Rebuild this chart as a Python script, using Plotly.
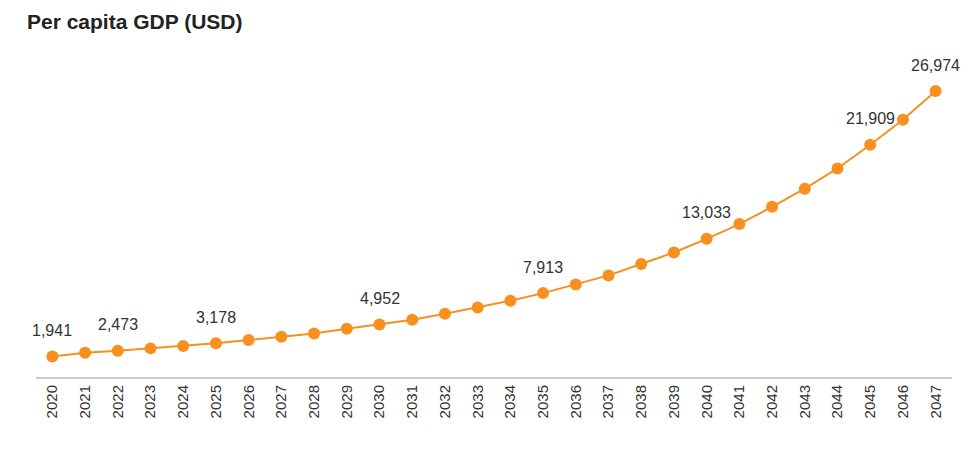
import plotly.graph_objects as go

years = [str(y) for y in range(2020, 2048)]
gdp = [1941, 2290, 2473, 2700, 2925, 3178, 3490, 3800, 4110, 4555,
       4952, 5405, 5970, 6565, 7200, 7913, 8735, 9585, 10660, 11750,
       13033, 14430, 16060, 17760, 19675, 21909, 24270, 26974]
label_years = ["2020", "2022", "2025", "2030", "2035", "2040", "2045", "2047"]

orange = "#F7901E"

fig = go.Figure()
fig.add_trace(go.Scatter(
    x=years, y=gdp, mode="lines+markers",
    line=dict(color=orange, width=2),
    marker=dict(color=orange, size=12),
    hoverinfo="x+y",
))

for yr in label_years:
    i = years.index(yr)
    v = gdp[i]
    fig.add_annotation(x=i, y=v, xref="x", yref="y", text=f"{v:,}",
                       showarrow=False, yshift=26,
                       font=dict(size=16, color="#333333"))

fig.update_layout(
    width=974, height=455,
    margin=dict(l=28, r=30, t=51, b=86),
    paper_bgcolor="white", plot_bgcolor="white",
    font=dict(family="Liberation Sans, Arial, sans-serif", color="#333333"),
    showlegend=False,
    title=dict(text="<b>Per capita GDP (USD)</b>", x=0.0195, xanchor="left",
               y=0.971, yanchor="middle",
               font=dict(size=21, color="#222222")),
    xaxis=dict(type="category", range=[-0.5, 27.5], tickangle=-90,
               showgrid=False, showline=True, linecolor="#cccccc", linewidth=2,
               ticks="", tickfont=dict(size=15, color="#333333"), zeroline=False),
    yaxis=dict(range=[0, 30000], showticklabels=False, showgrid=False,
               zeroline=False, showline=False, ticks=""),
)

fig.write_html("out.html")
